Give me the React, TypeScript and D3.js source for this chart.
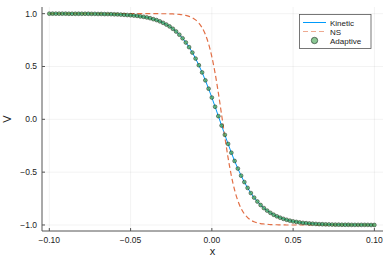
import * as d3 from "d3";
import { useEffect, useRef } from "react";

// x grid of the solution, -0.1 .. 0.1 step 0.002 (101 points)
const xGrid: number[] = d3.range(0, 101).map((i) => -0.1 + i * 0.002);

// Kinetic solution
const kineticV = [
  1.0, 1.0, 1.0, 1.0, 1.0, 1.0, 0.999, 0.999, 0.999, 0.999,
  0.999, 0.999, 0.999, 0.998, 0.998, 0.997, 0.997, 0.996, 0.996, 0.995,
  0.994, 0.993, 0.991, 0.989, 0.987, 0.985, 0.982, 0.979, 0.974, 0.97,
  0.964, 0.957, 0.948, 0.939, 0.927, 0.913, 0.897, 0.879, 0.857, 0.831,
  0.801, 0.767, 0.727, 0.683, 0.632, 0.575, 0.512, 0.444, 0.369, 0.29,
  0.206, 0.119, 0.03, -0.059, -0.147, -0.233, -0.316, -0.394, -0.466, -0.533,
  -0.594, -0.649, -0.698, -0.741, -0.778, -0.811, -0.84, -0.864, -0.885, -0.903,
  -0.918, -0.931, -0.942, -0.951, -0.959, -0.966, -0.971, -0.976, -0.98, -0.983,
  -0.986, -0.988, -0.99, -0.992, -0.993, -0.994, -0.995, -0.996, -0.997, -0.997,
  -0.998, -0.998, -0.998, -0.999, -0.999, -0.999, -0.999, -0.999, -0.999, -1.0, -1.0,
];

// Navier-Stokes solution
const nsV = [
  1.0, 1.0, 1.0, 1.0, 1.0, 1.0, 1.0, 1.0, 1.0, 1.0,
  1.0, 1.0, 1.0, 1.0, 1.0, 1.0, 1.0, 1.0, 1.0, 1.0,
  1.0, 1.0, 1.0, 1.0, 1.0, 1.0, 1.0, 1.0, 1.0, 1.0,
  1.0, 1.0, 1.0, 1.0, 0.999, 0.999, 0.999, 0.998, 0.997, 0.995,
  0.993, 0.989, 0.983, 0.974, 0.961, 0.941, 0.911, 0.867, 0.803, 0.713,
  0.592, 0.437, 0.25, 0.043, -0.168, -0.365, -0.534, -0.669, -0.77, -0.844,
  -0.895, -0.93, -0.954, -0.97, -0.98, -0.987, -0.991, -0.994, -0.996, -0.998,
  -0.998, -0.999, -0.999, -1.0, -1.0, -1.0, -1.0, -1.0, -1.0, -1.0,
  -1.0, -1.0, -1.0, -1.0, -1.0, -1.0, -1.0, -1.0, -1.0, -1.0,
  -1.0, -1.0, -1.0, -1.0, -1.0, -1.0, -1.0, -1.0, -1.0, -1.0, -1.0,
];

// Adaptive solver points sit on the kinetic curve
const adaptiveV = kineticV;

const xTicks = [-0.1, -0.05, 0, 0.05, 0.1];
const yTicks = [-1, -0.5, 0, 0.5, 1];
const seriesNames = ["Kinetic", "NS", "Adaptive"];

const W = 390;
const H = 260;
const FONT = "'Liberation Sans', Arial, sans-serif";

export default function App() {
  const ref = useRef<SVGSVGElement>(null);

  useEffect(() => {
    const svg = d3.select(ref.current);
    svg.selectAll("*").remove();

    const left = 42, right = 383, top = 7, bottom = 231;
    const x = d3.scaleLinear().domain([-0.1045, 0.1053]).range([left, right]);
    const y = d3.scaleLinear().domain([-1.057, 1.063]).range([bottom, top]);

    svg.append("rect").attr("width", W).attr("height", H).attr("fill", "white");

    // grid
    const grid = svg.append("g").attr("stroke", "#000").attr("stroke-opacity", 0.1).attr("stroke-width", 0.5);
    xTicks.forEach((t) => {
      grid.append("line").attr("x1", x(t)).attr("x2", x(t)).attr("y1", top).attr("y2", bottom);
    });
    yTicks.forEach((t) => {
      grid.append("line").attr("x1", left).attr("x2", right).attr("y1", y(t)).attr("y2", y(t));
    });

    const fmt = (v: number, d: number) => v.toFixed(d).replace("-", "\u2212");

    // axes
    const ax = svg.append("g").attr("stroke", "#555").attr("stroke-width", 1);
    ax.append("line").attr("x1", left).attr("x2", left).attr("y1", top).attr("y2", bottom);
    ax.append("line").attr("x1", left).attr("x2", right).attr("y1", bottom).attr("y2", bottom);
    xTicks.forEach((t) => {
      ax.append("line").attr("x1", x(t)).attr("x2", x(t)).attr("y1", bottom).attr("y2", bottom - 3);
      svg.append("text").attr("x", x(t)).attr("y", bottom + 12)
        .attr("text-anchor", "middle").attr("font-size", 8.5).attr("font-family", FONT)
        .attr("fill", "#222").text(fmt(t, 2));
    });
    yTicks.forEach((t) => {
      ax.append("line").attr("x1", left).attr("x2", left + 3).attr("y1", y(t)).attr("y2", y(t));
      svg.append("text").attr("x", 37).attr("y", y(t) + 3)
        .attr("text-anchor", "end").attr("font-size", 8.5).attr("font-family", FONT)
        .attr("fill", "#222").text(fmt(t, 1));
    });

    // axis labels
    svg.append("text").attr("x", (left + right) / 2).attr("y", 255)
      .attr("text-anchor", "middle").attr("font-size", 11).attr("font-family", FONT)
      .attr("fill", "#222").text("x");
    svg.append("text").attr("transform", `translate(11,${(top + bottom) / 2}) rotate(-90)`)
      .attr("text-anchor", "middle").attr("font-size", 11).attr("font-family", FONT)
      .attr("fill", "#222").text("V");

    // curves
    const line = d3.line<number>().x((_, i) => x(xGrid[i])).y((d) => y(d)).curve(d3.curveMonotoneX);
    svg.append("path").attr("d", line(kineticV)).attr("fill", "none")
      .attr("stroke", "#009afa").attr("stroke-width", 1);
    svg.append("path").attr("d", line(nsV)).attr("fill", "none")
      .attr("stroke", "#e26f46").attr("stroke-width", 1.2).attr("stroke-dasharray", "5,3");

    svg.append("g").selectAll("circle").data(adaptiveV).enter().append("circle")
      .attr("cx", (_, i) => x(xGrid[i]))
      .attr("cy", (d) => y(d))
      .attr("r", 1.9)
      .attr("fill", "#3da44d").attr("fill-opacity", 0.7)
      .attr("stroke", "#1a2a20").attr("stroke-width", 0.5);

    // legend
    const lg = svg.append("g");
    lg.append("rect").attr("x", 299.5).attr("y", 14.5).attr("width", 71.5).attr("height", 34)
      .attr("fill", "white").attr("stroke", "#555").attr("stroke-width", 0.8);
    const rows = [22.5, 31.5, 40.5];
    lg.append("line").attr("x1", 303).attr("x2", 326).attr("y1", rows[0]).attr("y2", rows[0])
      .attr("stroke", "#009afa").attr("stroke-width", 1);
    lg.append("line").attr("x1", 303).attr("x2", 326).attr("y1", rows[1]).attr("y2", rows[1])
      .attr("stroke", "#e26f46").attr("stroke-opacity", 0.6).attr("stroke-width", 1.2).attr("stroke-dasharray", "5,3");
    lg.append("circle").attr("cx", 314.5).attr("cy", rows[2]).attr("r", 3.2)
      .attr("fill", "#3da44d").attr("fill-opacity", 0.6).attr("stroke", "#1a2a20").attr("stroke-width", 0.6);
    seriesNames.forEach((n, i) => {
      lg.append("text").attr("x", 330).attr("y", rows[i] + 3).attr("font-size", 8)
        .attr("font-family", FONT).attr("fill", "#222").text(n);
    });
  }, []);

  return (
    <svg ref={ref} width={W} height={H} style={{ position: "absolute", left: 0, top: 0 }} />
  );
}
